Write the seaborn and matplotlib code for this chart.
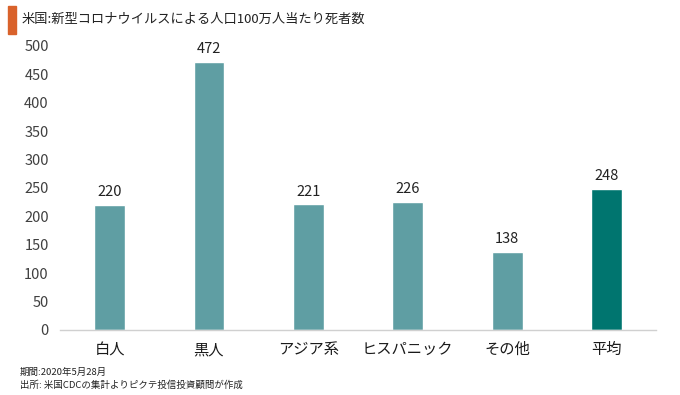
import matplotlib
matplotlib.use("Agg")
import matplotlib.pyplot as plt
import seaborn as sns
import pandas as pd
from matplotlib.patches import Rectangle

categories = ["白人", "黒人", "アジア系", "ヒスパニック", "その他", "平均"]
values = [220, 472, 221, 226, 138, 248]
bar_colors = ["#5F9EA3", "#5F9EA3", "#5F9EA3", "#5F9EA3", "#5F9EA3", "#00756F"]
yticks = [0, 50, 100, 150, 200, 250, 300, 350, 400, 450, 500]
title = "米国:新型コロナウイルスによる人口100万人当たり死者数"
note1 = "期間:2020年5月28月"
note2 = "出所: 米国CDCの集計よりピクテ投信投資顧問が作成"

sns.set_style("white")
plt.rcParams["font.family"] = ["Noto Sans CJK JP", "DejaVu Sans"]

df = pd.DataFrame({"cat": categories, "val": values})

fig = plt.figure(figsize=(6.8, 3.95), dpi=100)
ax = fig.add_axes([0.088, 0.1646, 0.877, 0.719])
sns.barplot(data=df, x="cat", y="val", hue="cat", palette=bar_colors,
            legend=False, width=0.31, ax=ax, saturation=1)

ax.set_ylim(0, 500)
ax.set_yticks(yticks)
ax.set_yticklabels([str(t) for t in yticks], fontsize=10.5, color="#404040")
ax.set_xlabel("")
ax.set_ylabel("")
ax.tick_params(axis="x", labelsize=11, colors="#1a1a1a", pad=8, length=0)
ax.tick_params(axis="y", length=0, pad=8)
for s in ["top", "right", "left"]:
    ax.spines[s].set_visible(False)
ax.spines["bottom"].set_color("#D0D0D0")
ax.spines["bottom"].set_linewidth(1.0)

for i, v in enumerate(values):
    ax.text(i, v + 10, str(v), ha="center", va="bottom", fontsize=10.5, color="#222222")

fig.patches.append(Rectangle((8 / 680, 1 - 34 / 395), 8 / 680, 28 / 395,
                             transform=fig.transFigure, color="#D9622B"))
fig.text(22 / 680, 1 - 19 / 395, title, fontsize=9.5, color="#222222", va="center", ha="left")
fig.text(20 / 680, 1 - 372 / 395, note1, fontsize=6.8, color="#222222", va="center", ha="left")
fig.text(20 / 680, 1 - 385 / 395, note2, fontsize=6.8, color="#222222", va="center", ha="left")

fig.savefig("out.png", dpi=100)
